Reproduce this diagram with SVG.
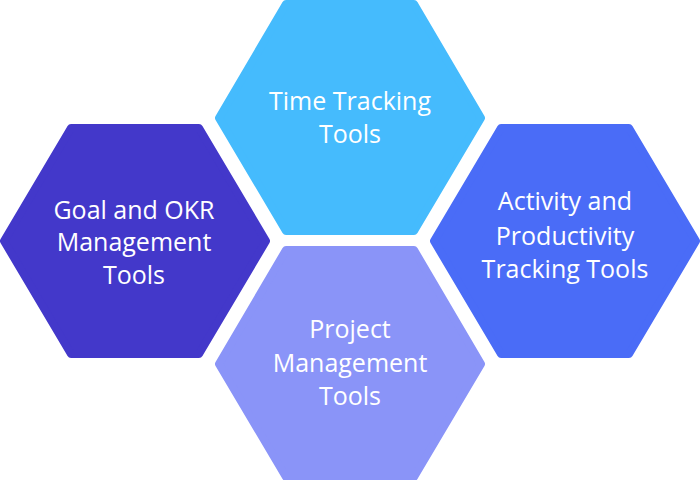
<svg xmlns="http://www.w3.org/2000/svg" width="700" height="480" viewBox="0 0 700 480">
<style>
.h{stroke-linejoin:round;stroke-width:8}
.t{font-family:"Open Sans","DejaVu Sans",sans-serif;font-size:25px;fill:#fff;text-anchor:middle}
</style>
<rect width="700" height="480" fill="#fff"/>
<g id="time">
<polygon class="h" fill="#45BBFD" stroke="#45BBFD" points="219,118 286,4 414,4 481,118 414,231 286,231"/>
<text class="t" x="350" y="110">Time Tracking</text>
<text class="t" x="350" y="143">Tools</text>
</g>
<g id="goal">
<polygon class="h" fill="#4338CA" stroke="#4338CA" points="4,241 71,128 199,128 266,241 199,354 71,354"/>
<text class="t" x="134" y="219">Goal and OKR</text>
<text class="t" x="134" y="251">Management</text>
<text class="t" x="134" y="284">Tools</text>
</g>
<g id="activity">
<polygon class="h" fill="#4A6CF7" stroke="#4A6CF7" points="434,241 501,128 629,128 696,241 629,354 501,354"/>
<text class="t" x="565" y="210">Activity and</text>
<text class="t" x="565" y="245">Productivity</text>
<text class="t" x="565" y="278">Tracking Tools</text>
</g>
<g id="project">
<polygon class="h" fill="#8A94F8" stroke="#8A94F8" points="219,364 286,250 414,250 481,364 414,477 286,477"/>
<text class="t" x="350" y="338">Project</text>
<text class="t" x="350" y="372">Management</text>
<text class="t" x="350" y="405">Tools</text>
</g>
<g id="connectors"/>
</svg>
